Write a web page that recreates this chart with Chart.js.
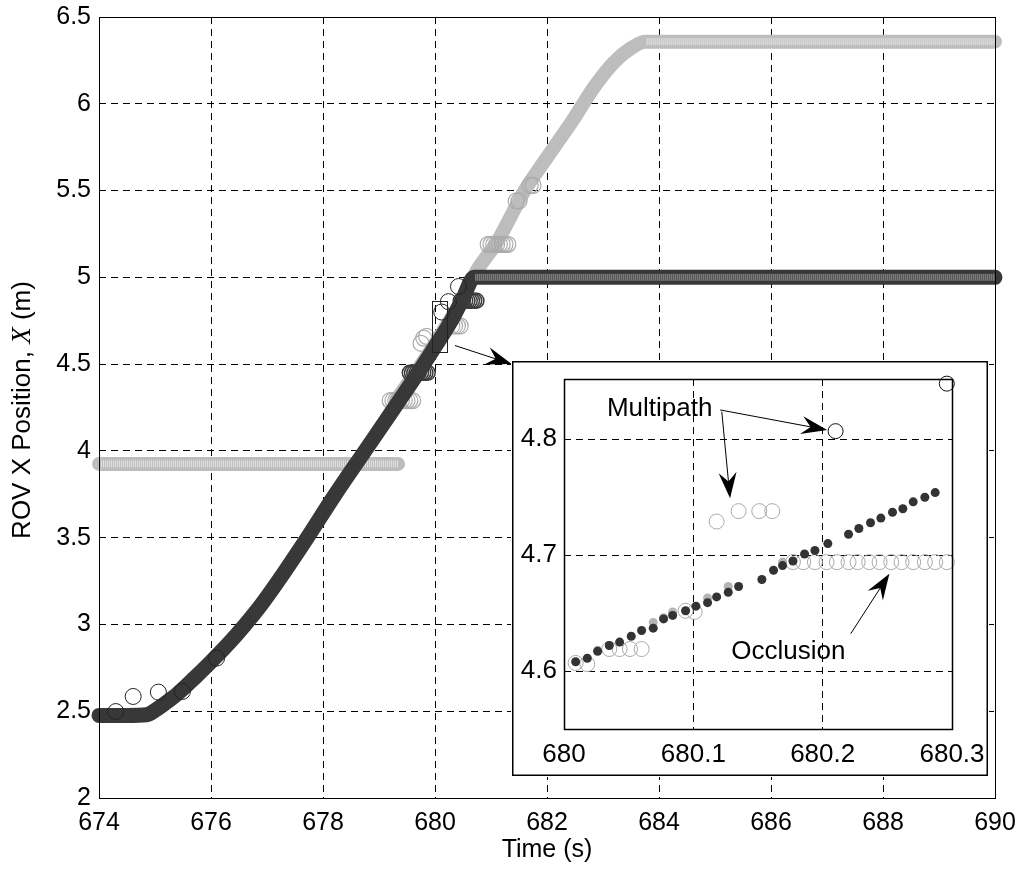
<!DOCTYPE html>
<html>
<head>
<meta charset="utf-8">
<script src="https://cdn.jsdelivr.net/npm/chart.js@4.4.1/dist/chart.umd.min.js"></script>
<style>
  html, body { margin: 0; padding: 0; background: #fff; }
  #wrap { position: relative; width: 1022px; height: 869px; }
  #main { position: absolute; left: 0; top: 0; }
  #inset { position: absolute; left: 511px; top: 360px; background: #fff; }
</style>
</head>
<body>
<div id="wrap">
  <canvas id="main" width="1022" height="869"></canvas>
  <canvas id="inset" width="478" height="417"></canvas>
</div>
<script>
// ---- main plot data (time in s, position in m) ----
const xTicks = [674, 676, 678, 680, 682, 684, 686, 688, 690];
const xTickLabels = ['674', '676', '678', '680', '682', '684', '686', '688', '690'];
const yTicks = [2, 2.5, 3, 3.5, 4, 4.5, 5, 5.5, 6, 6.5];
const yTickLabels = ['2', '2.5', '3', '3.5', '4', '4.5', '5', '5.5', '6', '6.5'];

// dark estimate track
const darkTime = [674, 674.5, 674.85, 675.0, 675.2, 675.4, 675.7, 676.0, 676.3, 676.6, 676.9, 677.2, 677.7, 678.2, 678.75, 679.3, 679.8, 680.0, 680.3, 680.5, 680.7, 690];
const darkPos = [2.476, 2.476, 2.48, 2.505, 2.55, 2.6, 2.69, 2.785, 2.885, 2.995, 3.115, 3.25, 3.49, 3.74, 4.0, 4.26, 4.5, 4.6, 4.755, 4.88, 5.0, 5.0];
// dark held (open circle) segments
const darkHoldTime = [680.72, 690];
const darkHoldPos = [5.0, 5.0];
const darkRingTime = [679.55, 679.59, 679.63, 679.67, 679.71, 679.75, 679.79, 679.83, 679.87, 680.46, 680.5, 680.54, 680.58, 680.62, 680.66, 680.7, 680.74];
const darkRingPos = [4.45, 4.45, 4.45, 4.45, 4.45, 4.45, 4.45, 4.45, 4.45, 4.865, 4.865, 4.865, 4.865, 4.865, 4.865, 4.865, 4.865];

// light estimate track
const lightHoldTime = [674, 679.34];
const lightHoldPos = [3.925, 3.925];
const lightTime = [679.3, 679.8, 680.2, 680.5, 680.75, 681.1, 681.6, 682.0, 682.45, 682.85, 683.2, 683.5, 683.75, 690];
const lightPos = [4.29, 4.52, 4.72, 4.88, 5.04, 5.2, 5.5, 5.69, 5.9, 6.1, 6.24, 6.32, 6.358, 6.358];
const lightTopTime = [683.78, 690];
const lightTopPos = [6.358, 6.358];
const lightRingTime = [679.2, 679.25, 679.3, 679.35, 679.4, 679.45, 679.5, 679.55, 679.6, 679.75, 679.8, 679.85, 680.3, 680.35, 680.4, 680.45, 680.95, 681.0, 681.05, 681.1, 681.15, 681.2, 681.25, 681.3, 681.45, 681.5, 681.7, 681.75];
const lightRingPos = [4.29, 4.29, 4.29, 4.29, 4.29, 4.29, 4.29, 4.29, 4.29, 4.62, 4.65, 4.66, 4.72, 4.72, 4.72, 4.72, 5.19, 5.19, 5.19, 5.19, 5.19, 5.19, 5.19, 5.19, 5.44, 5.44, 5.53, 5.53];

// black measurements
const blackTime = [674.3, 674.61, 675.06, 675.49, 676.1, 680.12, 680.24, 680.42];
const blackPos = [2.498, 2.585, 2.61, 2.614, 2.806, 4.80, 4.86, 4.947];

// zoom window drawn on the main plot
const zoomWinTime = [679.946, 680.214];
const zoomWinPos = [4.57, 4.864];

// ---- inset data ----
const insetXTicks = [680, 680.1, 680.2, 680.3];
const insetXLabels = ['680', '680.1', '680.2', '680.3'];
const insetYTicks = [4.6, 4.7, 4.8];
const insetYLabels = ['4.6', '4.7', '4.8'];

const insetDarkTime = [680.009, 680.018, 680.026, 680.035, 680.043, 680.052, 680.060, 680.069, 680.077, 680.084, 680.094, 680.102, 680.111, 680.118, 680.127, 680.135, 680.153, 680.162, 680.169, 680.177, 680.186, 680.194, 680.204, 680.220, 680.228, 680.237, 680.245, 680.254, 680.262, 680.270, 680.279, 680.287];
const insetDarkPos = [4.608, 4.611, 4.617, 4.622, 4.625, 4.630, 4.635, 4.637, 4.645, 4.648, 4.652, 4.656, 4.659, 4.664, 4.668, 4.673, 4.679, 4.687, 4.691, 4.695, 4.701, 4.704, 4.710, 4.718, 4.723, 4.728, 4.732, 4.737, 4.740, 4.746, 4.750, 4.754];

const insetGrayTime = [680.026, 680.069, 680.077, 680.084, 680.111, 680.127, 680.169];
const insetGrayPos = [4.618, 4.642, 4.646, 4.651, 4.663, 4.673, 4.694];

const insetRingTime = [680.009, 680.018, 680.035, 680.043, 680.051, 680.060, 680.094, 680.101, 680.118, 680.135, 680.151, 680.161, 680.177, 680.185, 680.194, 680.203, 680.211, 680.220, 680.227, 680.236, 680.244, 680.253, 680.261, 680.270, 680.279, 680.287, 680.296];
const insetRingPos = [4.607, 4.606, 4.619, 4.619, 4.619, 4.619, 4.652, 4.651, 4.729, 4.738, 4.738, 4.738, 4.694, 4.694, 4.694, 4.694, 4.694, 4.694, 4.694, 4.694, 4.694, 4.694, 4.694, 4.694, 4.694, 4.694, 4.694];

const insetBlackTime = [680.210, 680.296];
const insetBlackPos = [4.807, 4.848];

const SANS = '"Liberation Sans", Arial, Helvetica, sans-serif';
Chart.defaults.font.family = SANS;
Chart.defaults.font.size = 25;
Chart.defaults.color = '#000';

const xy = (xs, ys) => xs.map((x, i) => ({ x, y: ys[i] }));

// keep the plot box where it is, whatever the tick labels need
const noEdgePad = (s) => { s.paddingLeft = 0; s.paddingRight = 0; s.paddingTop = 0; s.paddingBottom = 0; };

function drawArrow(ctx, x1, y1, x2, y2) {
  const ang = Math.atan2(y2 - y1, x2 - x1);
  const len = 26, half = 9;
  ctx.save();
  ctx.strokeStyle = '#000';
  ctx.fillStyle = '#000';
  ctx.lineWidth = 1;
  ctx.beginPath();
  ctx.moveTo(x1, y1);
  ctx.lineTo(x2 - Math.cos(ang) * len * 0.6, y2 - Math.sin(ang) * len * 0.6);
  ctx.stroke();
  ctx.translate(x2, y2);
  ctx.rotate(ang);
  ctx.beginPath();
  ctx.moveTo(0, 0);
  ctx.lineTo(-len, -half);
  ctx.lineTo(-len * 0.65, 0);
  ctx.lineTo(-len, half);
  ctx.closePath();
  ctx.fill();
  ctx.restore();
}

function drawFrame(chart, width) {
  const { ctx, chartArea: a } = chart;
  ctx.save();
  ctx.strokeStyle = '#000';
  ctx.lineWidth = width;
  ctx.strokeRect(a.left + 0.5, a.top + 0.5, a.right - a.left, a.bottom - a.top);
  ctx.restore();
}

const mainExtras = {
  id: 'mainExtras',
  afterDraw(chart) {
    const { ctx, scales: { x, y } } = chart;
    drawFrame(chart, 1);

    // zoom window rectangle
    const rx1 = x.getPixelForValue(zoomWinTime[0]), rx2 = x.getPixelForValue(zoomWinTime[1]);
    const ry1 = y.getPixelForValue(zoomWinPos[1]), ry2 = y.getPixelForValue(zoomWinPos[0]);
    ctx.save();
    ctx.strokeStyle = '#222';
    ctx.lineWidth = 1;
    ctx.strokeRect(Math.round(rx1) + 0.5, Math.round(ry1) + 0.5, Math.round(rx2 - rx1), Math.round(ry2 - ry1));
    ctx.restore();

    // arrow to the inset
    drawArrow(ctx, x.getPixelForValue(680.357), y.getPixelForValue(4.607),
      x.getPixelForValue(681.37), y.getPixelForValue(4.50));

    // y axis title with italic X
    const parts = [
      ['ROV X Position, ', '26px ' + SANS],
      ['X', 'italic 27px "Liberation Serif", "DejaVu Serif", serif'],
      [' (m)', '26px ' + SANS],
    ];
    ctx.save();
    ctx.translate(23, 410);
    ctx.rotate(-Math.PI / 2);
    ctx.fillStyle = '#000';
    ctx.textBaseline = 'middle';
    ctx.textAlign = 'left';
    let total = 0;
    parts.forEach(([t, f]) => { ctx.font = f; total += ctx.measureText(t).width; });
    let cx = -total / 2;
    parts.forEach(([t, f]) => { ctx.font = f; ctx.fillText(t, cx, 0); cx += ctx.measureText(t).width; });
    ctx.restore();
  },
};

const gridOpts = { color: '#000', lineWidth: 1, drawTicks: false };
const borderOpts = { display: false, dash: [7, 5] };

new Chart(document.getElementById('main'), {
  type: 'scatter',
  data: {
    datasets: [
      { data: xy(blackTime, blackPos), pointRadius: 8, pointBorderWidth: 1, pointBorderColor: '#222', pointBackgroundColor: 'rgba(0,0,0,0)', clip: false },
      { data: xy(darkRingTime, darkRingPos), pointRadius: 7.5, pointBorderWidth: 1.5, pointBorderColor: '#3a3a3a', pointBackgroundColor: 'rgba(0,0,0,0)', clip: false },
      { data: xy(darkHoldTime, darkHoldPos), showLine: true, pointRadius: 0, borderColor: '#9c9c9c', borderWidth: 7, borderDash: [1, 1], clip: false },
      { data: xy(darkTime, darkPos), showLine: true, pointRadius: 0, borderColor: '#383838', borderWidth: 15, borderCapStyle: 'round', borderJoinStyle: 'round', cubicInterpolationMode: 'monotone', clip: false },
      { data: xy(lightRingTime, lightRingPos), pointRadius: 8, pointBorderWidth: 1.2, pointBorderColor: '#ababab', pointBackgroundColor: 'rgba(0,0,0,0)', clip: false },
      { data: xy(lightTopTime, lightTopPos), showLine: true, pointRadius: 0, borderColor: '#e2e2e2', borderWidth: 7, borderDash: [1, 1], clip: false },
      { data: xy(lightHoldTime, lightHoldPos), showLine: true, pointRadius: 0, borderColor: '#e2e2e2', borderWidth: 7, borderDash: [1, 1], clip: false },
      { data: xy(lightHoldTime, lightHoldPos), showLine: true, pointRadius: 0, borderColor: '#bdbdbd', borderWidth: 14, borderCapStyle: 'round', clip: false },
      { data: xy(lightTime, lightPos), showLine: true, pointRadius: 0, borderColor: '#bdbdbd', borderWidth: 14, borderCapStyle: 'round', borderJoinStyle: 'round', cubicInterpolationMode: 'monotone', clip: false },
    ],
  },
  options: {
    responsive: false,
    animation: false,
    events: [],
    layout: { padding: { top: 17, right: 27, left: 0, bottom: 0 } },
    plugins: { legend: { display: false }, tooltip: { enabled: false } },
    scales: {
      x: {
        type: 'linear', min: 674, max: 690,
        afterBuildTicks: (s) => { s.ticks = xTicks.map((v) => ({ value: v })); },
        afterFit: (s) => { s.height = 71; noEdgePad(s); },
        ticks: { padding: 10, maxRotation: 0, callback: (v, i) => xTickLabels[i] },
        grid: gridOpts, border: borderOpts,
        title: { display: true, text: 'Time (s)', font: { size: 25 }, padding: { top: 0, bottom: 4 } },
      },
      y: {
        type: 'linear', min: 2, max: 6.5,
        afterBuildTicks: (s) => { s.ticks = yTicks.map((v) => ({ value: v })); },
        afterFit: (s) => { s.width = 99; noEdgePad(s); },
        ticks: { padding: 8, callback: (v, i) => yTickLabels[i] },
        grid: gridOpts, border: borderOpts,
      },
    },
  },
  plugins: [mainExtras],
});

const insetExtras = {
  id: 'insetExtras',
  afterDraw(chart) {
    const { ctx, scales: { x, y } } = chart;
    drawFrame(chart, 1.5);
    ctx.save();
    ctx.strokeStyle = '#000';
    ctx.lineWidth = 1.5;
    ctx.strokeRect(1.75, 1.75, 474.5, 413.5);
    ctx.fillStyle = '#000';
    ctx.font = '26px ' + SANS;
    ctx.textAlign = 'center';
    ctx.textBaseline = 'middle';
    ctx.fillText('Multipath', x.getPixelForValue(680.074), y.getPixelForValue(4.826));
    ctx.fillText('Occlusion', x.getPixelForValue(680.1735), y.getPixelForValue(4.617));
    ctx.restore();
    drawArrow(ctx, x.getPixelForValue(680.1207), y.getPixelForValue(4.8253),
      x.getPixelForValue(680.2035), y.getPixelForValue(4.808));
    drawArrow(ctx, x.getPixelForValue(680.122), y.getPixelForValue(4.8238),
      x.getPixelForValue(680.1284), y.getPixelForValue(4.749));
    drawArrow(ctx, x.getPixelForValue(680.2217), y.getPixelForValue(4.6322),
      x.getPixelForValue(680.2516), y.getPixelForValue(4.6839));
  },
};

new Chart(document.getElementById('inset'), {
  type: 'scatter',
  data: {
    datasets: [
      { data: xy(insetBlackTime, insetBlackPos), pointRadius: 7.5, pointBorderWidth: 1, pointBorderColor: '#111', pointBackgroundColor: 'rgba(0,0,0,0)', clip: false },
      { data: xy(insetDarkTime, insetDarkPos), pointRadius: 4.5, pointBorderWidth: 0, pointBackgroundColor: '#333', clip: false },
      { data: xy(insetRingTime, insetRingPos), pointRadius: 7.5, pointBorderWidth: 1, pointBorderColor: '#aaa', pointBackgroundColor: 'rgba(0,0,0,0)', clip: false },
      { data: xy(insetGrayTime, insetGrayPos), pointRadius: 4.5, pointBorderWidth: 0, pointBackgroundColor: '#b4b4b4', clip: false },
    ],
  },
  options: {
    responsive: false,
    animation: false,
    events: [],
    layout: { padding: { top: 19, right: 37, left: 0, bottom: 0 } },
    plugins: { legend: { display: false }, tooltip: { enabled: false } },
    scales: {
      x: {
        type: 'linear', min: 680, max: 680.3,
        afterBuildTicks: (s) => { s.ticks = insetXTicks.map((v) => ({ value: v })); },
        afterFit: (s) => { s.height = 48; noEdgePad(s); },
        ticks: { padding: 10, maxRotation: 0, font: { size: 26 }, callback: (v, i) => insetXLabels[i] },
        grid: gridOpts, border: borderOpts,
      },
      y: {
        type: 'linear', min: 4.55, max: 4.852,
        afterBuildTicks: (s) => { s.ticks = insetYTicks.map((v) => ({ value: v })); },
        afterFit: (s) => { s.width = 53; noEdgePad(s); },
        ticks: { padding: 7, font: { size: 26 }, callback: (v, i) => insetYLabels[i] },
        grid: gridOpts, border: borderOpts,
      },
    },
  },
  plugins: [insetExtras],
});
</script>
</body>
</html>
